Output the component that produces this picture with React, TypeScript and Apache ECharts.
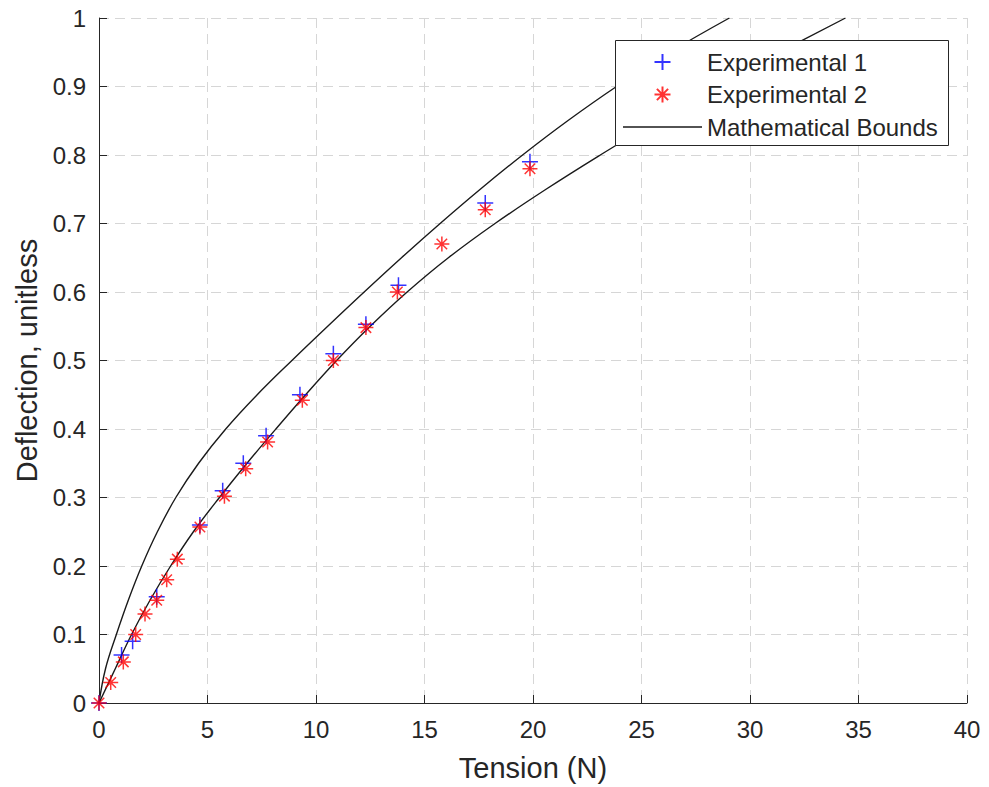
import React, { useEffect, useRef } from "react";
import * as echarts from "echarts";

// Experimental 1 (blue +)
const exp1X = [0, 1.04, 1.55, 2.66, 4.65, 5.7, 6.65, 7.7, 9.26, 10.8, 12.3, 13.8, 17.8, 19.86];
const exp1Y = [0, 0.07, 0.09, 0.155, 0.26, 0.31, 0.35, 0.39, 0.45, 0.51, 0.553, 0.61, 0.73, 0.79];

// Experimental 2 (red *)
const exp2X = [0, 0.54, 1.12, 1.69, 2.12, 2.66, 3.12, 3.61, 4.65, 5.78, 6.76, 7.77, 9.37, 10.8, 12.3, 13.75, 15.8, 17.8, 19.86];
const exp2Y = [0, 0.03, 0.06, 0.1, 0.13, 0.15, 0.18, 0.21, 0.257, 0.302, 0.342, 0.381, 0.442, 0.5, 0.548, 0.6, 0.67, 0.72, 0.78];

// Mathematical bounds (black lines)
const upperX = [0, 0.3, 0.8, 1.35, 1.97, 2.69, 3.54, 4.59, 5.84, 7.29, 8.89, 10.54, 12.22, 13.94, 15.72, 17.57, 19.52, 21.6, 23.85, 26.3, 29.05];
const upperY = [0, 0.05, 0.1, 0.15, 0.2, 0.25, 0.3, 0.35, 0.4, 0.45, 0.5, 0.55, 0.6, 0.65, 0.7, 0.75, 0.8, 0.85, 0.9, 0.95, 1.0];
const lowerX = [0, 0.75, 1.5, 2.35, 3.3, 4.35, 5.55, 6.82, 8.15, 9.52, 10.95, 12.5, 14.2, 16.1, 18.25, 20.6, 23.1, 25.7, 28.4, 31.35, 34.4];
const lowerY = [0, 0.05, 0.1, 0.15, 0.2, 0.25, 0.3, 0.35, 0.4, 0.45, 0.5, 0.55, 0.6, 0.65, 0.7, 0.75, 0.8, 0.85, 0.9, 0.95, 1.0];

const legendNames = ["Experimental 1", "Experimental 2", "Mathematical Bounds"];

const zip = (xs: number[], ys: number[]) => xs.map((x, i) => [x, ys[i]]);

const PLUS = "path://M5,0L5,10M0,5L10,5";
const STAR = "path://M5,0L5,10M0,5L10,5M1.5,1.5L8.5,8.5M1.5,8.5L8.5,1.5";
const LINE_ICON = "path://M0,7.3L79,7.3L79,8.7L0,8.7Z";
const FONT = "Liberation Sans, Arial, sans-serif";
const TXT = "#262626";
const CURVE = "#1a1a1a";

export default function App() {
  const ref = useRef<HTMLDivElement>(null);
  useEffect(() => {
    document.body.style.margin = "0";
    const chart = echarts.init(ref.current!, undefined, { renderer: "svg" });
    chart.setOption({
      animation: false,
      backgroundColor: "#ffffff",
      textStyle: { fontFamily: FONT },
      grid: { left: 99, right: 22, top: 18, bottom: 82 },
      xAxis: {
        type: "value",
        min: 0,
        max: 40,
        interval: 5,
        name: "Tension (N)",
        nameLocation: "middle",
        nameGap: 50,
        nameTextStyle: { fontSize: 29, color: TXT, fontFamily: FONT },
        axisLine: { show: true, onZero: false, lineStyle: { color: TXT, width: 1 } },
        axisTick: { show: true, inside: true, length: 8, lineStyle: { color: TXT } },
        axisLabel: { fontSize: 24, color: TXT, margin: 14, showMinLabel: true, showMaxLabel: true, fontFamily: FONT },
        splitLine: { show: true, lineStyle: { color: "#d6d6d6", type: [10, 6], width: 1 } },
      },
      yAxis: {
        type: "value",
        min: 0,
        max: 1,
        interval: 0.1,
        name: "Deflection, unitless",
        nameLocation: "middle",
        nameGap: 57,
        nameTextStyle: { fontSize: 29, color: TXT, fontFamily: FONT },
        axisLine: { show: true, onZero: false, lineStyle: { color: TXT, width: 1 } },
        axisTick: { show: true, inside: true, length: 8, lineStyle: { color: TXT } },
        axisLabel: { fontSize: 24, color: TXT, margin: 13, showMinLabel: true, showMaxLabel: true, fontFamily: FONT },
        splitLine: { show: true, lineStyle: { color: "#d6d6d6", type: [10, 6], width: 1 } },
      },
      legend: {
        data: [
          { name: legendNames[0] },
          { name: legendNames[1] },
          { name: legendNames[2], icon: LINE_ICON, itemStyle: { color: CURVE, borderWidth: 0 } },
        ],
        orient: "vertical",
        left: 623,
        top: 50,
        padding: 0,
        z: 10,
        itemWidth: 79,
        itemHeight: 16,
        itemGap: 8.5,
        symbolKeepAspect: true,
        selectedMode: false,
        textStyle: { fontSize: 24, color: TXT, fontFamily: FONT },
      },
      graphic: [
        {
          type: "rect",
          left: 615,
          top: 40,
          shape: { x: 0, y: 0, width: 333, height: 105 },
          style: { fill: "#ffffff", stroke: TXT, lineWidth: 1 },
          z: 9,
          silent: true,
        },
      ],
      series: [
        {
          name: legendNames[2],
          type: "line",
          data: zip(lowerX, lowerY),
          symbol: "none",
          smooth: 0.4,
          lineStyle: { color: CURVE, width: 1.4 },
          itemStyle: { color: CURVE },
          z: 3,
        },
        {
          name: legendNames[2],
          type: "line",
          data: zip(upperX, upperY),
          symbol: "none",
          smooth: 0.4,
          lineStyle: { color: CURVE, width: 1.4 },
          itemStyle: { color: CURVE },
          z: 3,
        },
        {
          name: legendNames[0],
          type: "scatter",
          data: zip(exp1X, exp1Y),
          symbol: PLUS,
          symbolSize: 16,
          symbolKeepAspect: true,
          itemStyle: { color: "transparent", borderColor: "#0000ff", borderWidth: 1.5 },
          z: 4,
        },
        {
          name: legendNames[1],
          type: "scatter",
          data: zip(exp2X, exp2Y),
          symbol: STAR,
          symbolSize: 15,
          symbolKeepAspect: true,
          itemStyle: { color: "transparent", borderColor: "#ff0000", borderWidth: 1.5 },
          z: 5,
        },
      ],
    });
    return () => chart.dispose();
  }, []);
  return <div ref={ref} style={{ position: "fixed", left: 0, top: 0, width: 989, height: 787 }} />;
}
